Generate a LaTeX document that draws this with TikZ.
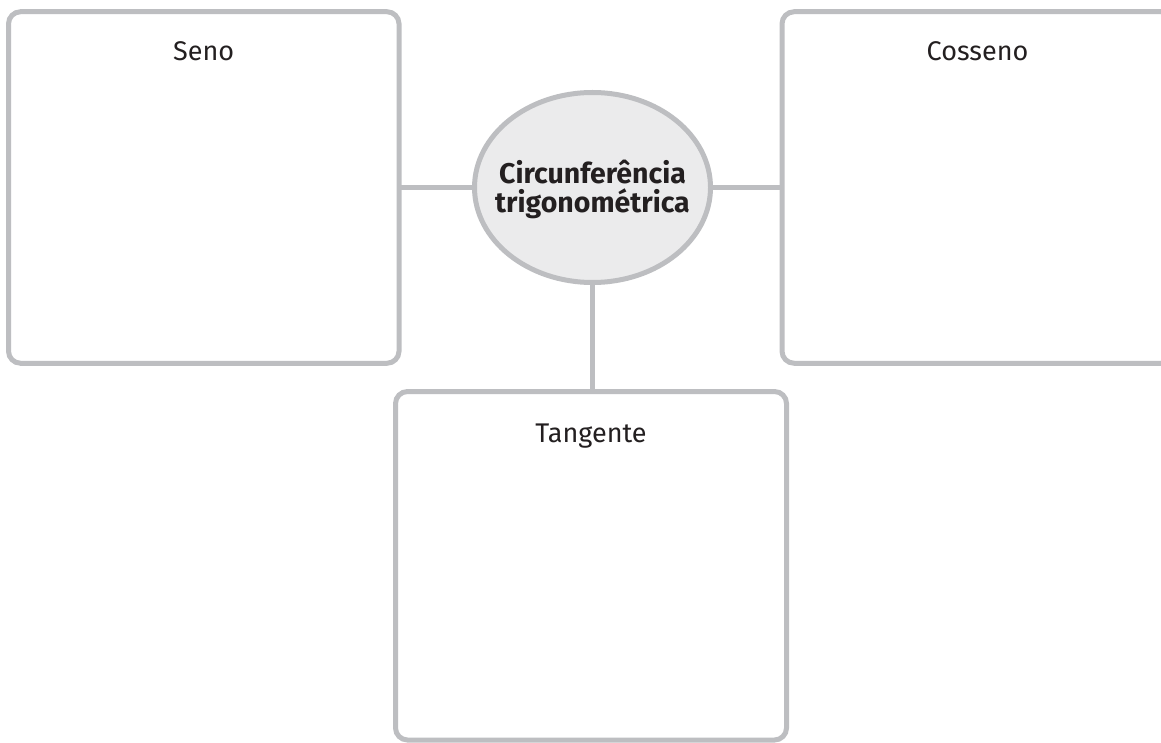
\documentclass[tikz,border=0pt]{standalone}
\usepackage{fontspec}
\setmainfont{Fira Sans}
\usetikzlibrary{shapes.geometric,calc}

\definecolor{framegray}{HTML}{BDBEC1}
\definecolor{bubblefill}{HTML}{EBEBEC}
\definecolor{inkdark}{HTML}{231F20}

\tikzset{
  panel/.style={draw=framegray, line width=5pt, rectangle, rounded corners=12pt,
                inner sep=0pt, outer sep=0pt, fill=white},
  panellabel/.style={anchor=base, text=inkdark, inner sep=0pt,
                     font=\fontsize{27}{29}\selectfont},
  bubble/.style={draw=framegray, line width=5pt, fill=bubblefill, ellipse,
                 inner sep=0pt, outer sep=0pt},
  bubbletext/.style={anchor=base, text=inkdark, inner sep=0pt,
                     font=\fontsize{28.5}{29}\selectfont\bfseries},
  link/.style={draw=framegray, line width=5pt}
}

\begin{document}
\begin{tikzpicture}[x=1pt, y=-1pt]
  \useasboundingbox (0,0) rectangle (1161,743);
  \clip (0,0) rectangle (1161,743);

  % three answer panels
  \node[panel, minimum width=390.5pt, minimum height=351.5pt] (seno) at (203.75,187.5) {};
  \node[panel, minimum width=391pt, minimum height=351.5pt] (cosseno) at (977.5,187.5) {};
  \node[panel, minimum width=391pt, minimum height=348.5pt] (tangente) at (591,565.75) {};

  % central concept
  \node[bubble, minimum width=236pt, minimum height=190pt] (circ) at (592.5,187.5) {};
  \node[bubbletext] (circline1) at ($(circ.center)+(0,-3.5)$) {Circunferência};
  \node[bubbletext] (circline2) at ($(circ.center)+(0,25.5)$) {trigonométrica};

  % connectors
  \draw[link] (seno.east) -- (circ.west);
  \draw[link] (circ.east) -- (cosseno.west);
  \draw[link] (circ.south) -- (circ.south |- tangente.north);

  % panel titles
  \node[panellabel] (senolabel) at ($(seno.north)+(0,49)$) {Seno};
  \node[panellabel] (cossenolabel) at ($(cosseno.north)+(0,49)$) {Cosseno};
  \node[panellabel] (tangentelabel) at ($(tangente.north)+(0,50.5)$) {Tangente};
\end{tikzpicture}
\end{document}
